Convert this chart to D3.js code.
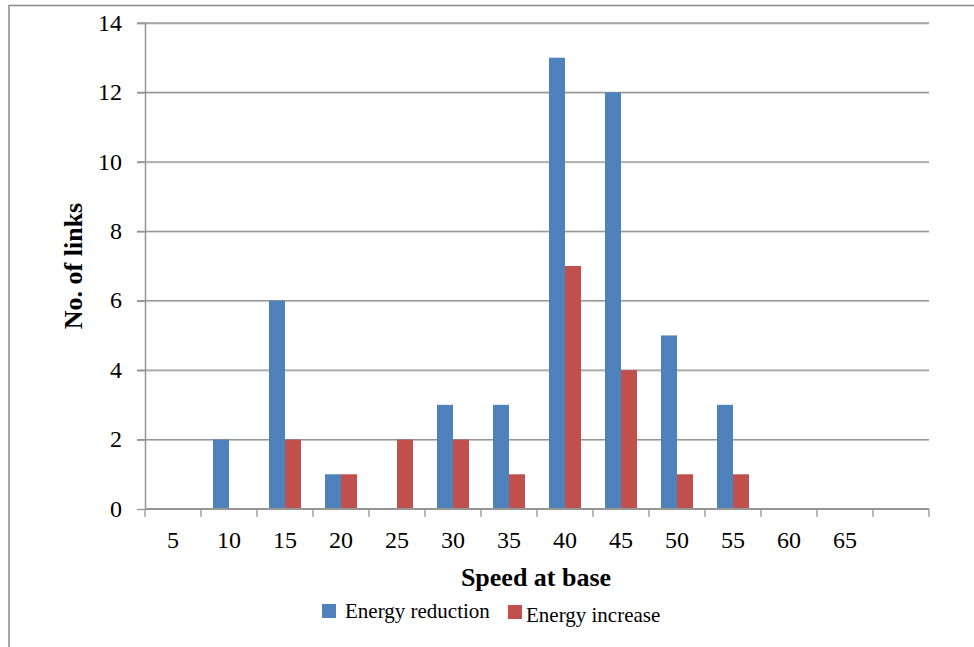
<!DOCTYPE html>
<html>
<head>
<meta charset="utf-8">
<script src="https://cdn.jsdelivr.net/npm/d3@7"></script>
<style>
  html, body { margin: 0; padding: 0; background: #fff; }
  svg { display: block; }
  text { font-family: "Liberation Serif", "Times New Roman", Times, serif; fill: #000; }
</style>
</head>
<body>
<svg id="chart" width="974" height="647"></svg>
<script>
// Speed bands along the x axis (the last band has no label)
const speeds = ["5", "10", "15", "20", "25", "30", "35", "40", "45", "50", "55", "60", "65", ""];
// Number of links per speed band
const energyReduction = [0, 2, 6, 1, 0, 3, 3, 13, 12, 5, 3, 0, 0, 0];
const energyIncrease  = [0, 0, 2, 1, 2, 2, 1, 7, 4, 1, 1, 0, 0, 0];
const yTicks = [0, 2, 4, 6, 8, 10, 12, 14];
const seriesNames = ["Energy reduction", "Energy increase"];
const seriesColors = ["#4F81BD", "#C0504D"];

const svg = d3.select("#chart");
const plot = { left: 145, right: 929, top: 23, bottom: 509 };

// Outer frame (top and left edges visible)
svg.append("path")
  .attr("d", `M9,647 V5.5 H974`)
  .attr("fill", "none")
  .attr("stroke", "#8a8a8a")
  .attr("stroke-width", 1.5);

const x = d3.scaleBand()
  .domain(d3.range(speeds.length))
  .range([plot.left, plot.right])
  .paddingInner(0)
  .paddingOuter(0);

const xInner = d3.scaleBand()
  .domain([0, 1])
  .range([0, x.bandwidth()])
  .paddingOuter(0.75)
  .paddingInner(0);

const y = d3.scaleLinear().domain([0, 14]).range([plot.bottom, plot.top]);

// Horizontal gridlines with a soft shadow
const grid = svg.append("g");
yTicks.filter(v => v > 0).forEach(v => {
  grid.append("line")
    .attr("x1", plot.left - 8).attr("x2", plot.right)
    .attr("y1", y(v) + 1).attr("y2", y(v) + 1)
    .attr("stroke", "#cfcfcf").attr("stroke-width", 1);
  grid.append("line")
    .attr("x1", plot.left - 8).attr("x2", plot.right)
    .attr("y1", y(v)).attr("y2", y(v))
    .attr("stroke", "#959595").attr("stroke-width", 1.3);
});

// Bars
const series = [energyReduction, energyIncrease];
series.forEach((vals, si) => {
  svg.append("g").selectAll("rect")
    .data(vals)
    .join("rect")
    .attr("x", (d, i) => x(i) + xInner(si))
    .attr("width", xInner.bandwidth())
    .attr("y", d => y(d))
    .attr("height", d => y(0) - y(d))
    .attr("fill", seriesColors[si]);
});

// Y axis
const yAxis = svg.append("g")
  .attr("transform", `translate(${plot.left},0)`)
  .call(d3.axisLeft(y).tickValues(yTicks).tickSize(8).tickPadding(15).tickSizeOuter(0));
yAxis.select(".domain").attr("stroke", "#959595").attr("stroke-width", 1.5);
yAxis.selectAll(".tick line").attr("stroke", "#959595").attr("stroke-width", 1.3);
yAxis.selectAll(".tick text")
  .attr("font-family", "Liberation Serif, Times New Roman, serif")
  .attr("font-size", 24).attr("fill", "#000").attr("dy", "0.3em");

// X axis with ticks at band boundaries
const xAxisG = svg.append("g").attr("transform", `translate(0,${plot.bottom})`);
xAxisG.append("line")
  .attr("x1", plot.left).attr("x2", plot.right)
  .attr("y1", 0).attr("y2", 0)
  .attr("stroke", "#959595").attr("stroke-width", 2);
const boundaries = d3.range(speeds.length).map(i => x(i)).concat([plot.right]);
xAxisG.selectAll("line.tk")
  .data(boundaries)
  .join("line")
  .attr("class", "tk")
  .attr("x1", d => d).attr("x2", d => d)
  .attr("y1", 0).attr("y2", 8)
  .attr("stroke", "#959595").attr("stroke-width", 1.3);
xAxisG.selectAll("text")
  .data(speeds)
  .join("text")
  .attr("x", (d, i) => x(i) + x.bandwidth() / 2)
  .attr("y", 39)
  .attr("text-anchor", "middle")
  .attr("font-size", 24)
  .text(d => d);

// Axis titles
svg.append("text")
  .attr("x", 536).attr("y", 586)
  .attr("text-anchor", "middle")
  .attr("font-size", 26).attr("font-weight", "bold")
  .text("Speed at base");

svg.append("text")
  .attr("transform", "translate(82,266) rotate(-90)")
  .attr("text-anchor", "middle")
  .attr("font-size", 26).attr("font-weight", "bold")
  .text("No. of links");

// Legend
const legend = [
  { sx: 322, sy: 604, tx: 345, ty: 618 },
  { sx: 508, sy: 605, tx: 526, ty: 622 }
];
legend.forEach((l, i) => {
  svg.append("rect")
    .attr("x", l.sx).attr("y", l.sy)
    .attr("width", 14).attr("height", 14)
    .attr("fill", seriesColors[i]);
  svg.append("text")
    .attr("x", l.tx).attr("y", l.ty)
    .attr("font-size", 21)
    .text(seriesNames[i]);
});
</script>
</body>
</html>
